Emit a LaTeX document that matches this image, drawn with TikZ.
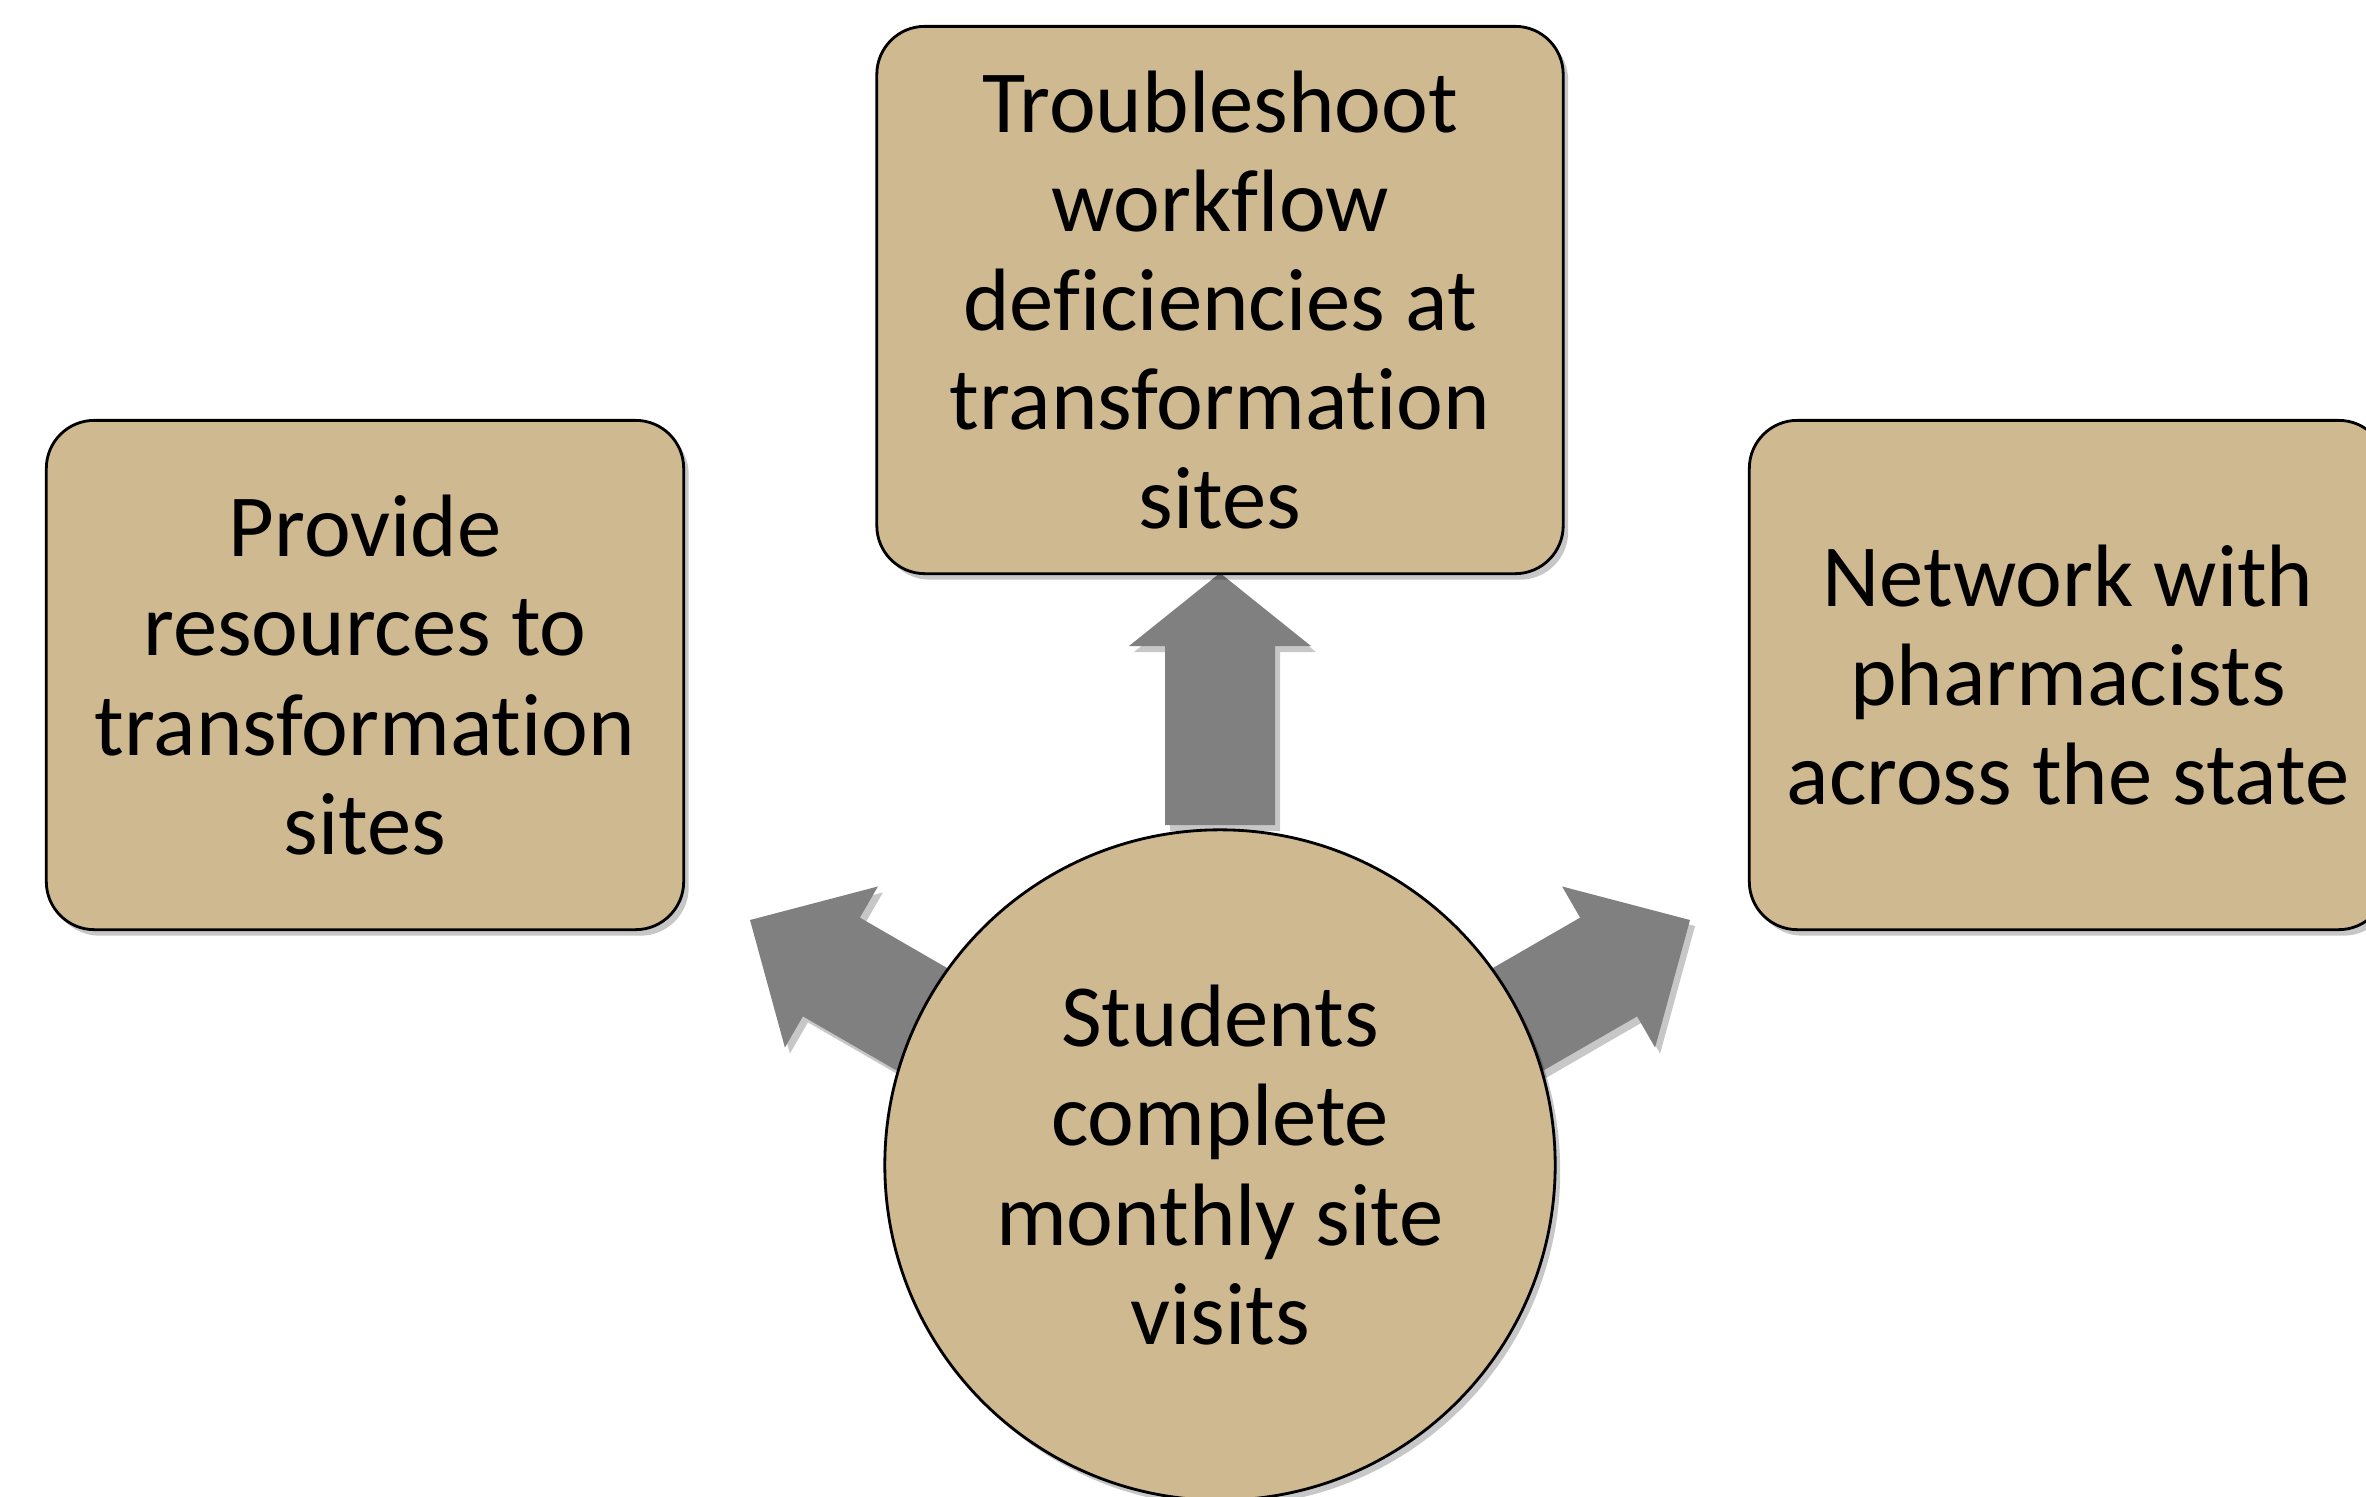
\documentclass[tikz,border=0pt]{standalone}
\usepackage{fontspec}
\setmainfont{Carlito}[Ligatures=NoCommon]
\usetikzlibrary{shadows}
\definecolor{tan}{RGB}{207,185,145}
\definecolor{arrowgray}{RGB}{128,128,128}
\tikzset{
  soft/.style={drop shadow={shadow xshift=0.05cm, shadow yshift=-0.06cm, opacity=0.22, fill=black}},
  tanbox/.style={rectangle, rounded corners=0.48cm, draw=black, line width=0.8pt, fill=tan,
    align=center, inner sep=0pt, font=\fontsize{25.2}{28.2}\selectfont, soft},
  tancircle/.style={circle, draw=black, line width=0.8pt, fill=tan, align=center, inner sep=0pt,
    minimum size=6.7cm, font=\fontsize{25.2}{28.2}\selectfont, soft},
  blockarrow/.style={fill=arrowgray, soft}
}
\begin{document}
\begin{tikzpicture}[x=0.01cm, y=-0.01cm]
\useasboundingbox (0,0) rectangle (2366,1496);
\clip (0,0) rectangle (2366,1496);
% block arrows (behind)
\coordinate (tipT) at (1220,573);
\coordinate (tipL) at (750,920);
\coordinate (tipR) at (1690,920);
\fill[blockarrow, shift={(tipT)}, rotate=90]
  (0,0) -- (-73,91) -- (-73,55) -- (-252,55) -- (-252,-55) -- (-73,-55) -- (-73,-91) -- cycle;
\fill[blockarrow, shift={(tipL)}, rotate=150]
  (0,0) -- (-94,93) -- (-94,57) -- (-265,57) -- (-265,-57) -- (-94,-57) -- (-94,-93) -- cycle;
\fill[blockarrow, shift={(tipR)}, rotate=30]
  (0,0) -- (-94,93) -- (-94,57) -- (-265,57) -- (-265,-57) -- (-94,-57) -- (-94,-93) -- cycle;
% boxes
\node[tanbox, minimum width=6.86cm, minimum height=5.47cm] (top) at (1220,300)
  {Troubleshoot\\workflow\\deficiencies at\\transformation\\sites};
\node[tanbox, minimum width=6.37cm, minimum height=5.09cm] (left) at (365,675)
  {Provide\\resources to\\transformation\\sites};
\node[tanbox, minimum width=6.37cm, minimum height=5.09cm] (right) at (2068,675)
  {Network with\\pharmacists\\across the state};
\node[tancircle] (hub) at (1220,1165)
  {Students\\complete\\monthly site\\visits};
\end{tikzpicture}
\end{document}
